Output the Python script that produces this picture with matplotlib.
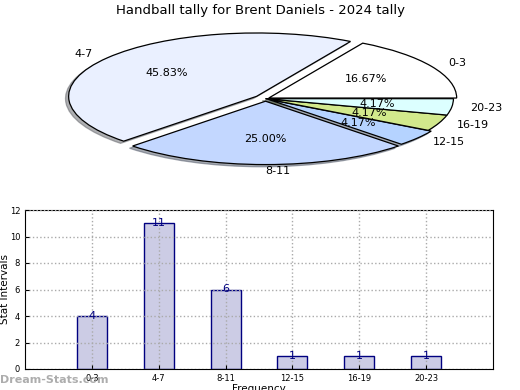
import numpy as np
import matplotlib.pyplot as plt

# data
categories = ["0-3", "4-7", "8-11", "12-15", "16-19", "20-23"]
counts = [4, 11, 6, 1, 1, 1]
pie_colors = ["#FFFFFF", "#EAF0FF", "#C3D7FF", "#B5D3FF", "#D2E98C", "#DCFFFF"]
explode = [0.02, 0.06, 0.04, 0.02, 0.0, 0.0]

fig = plt.figure(figsize=(5.2, 3.9), dpi=100)
fig.patch.set_facecolor("white")

# pie (squashed into an ellipse)
ax1 = fig.add_axes([40 / 520, 0.552, 451 / 520, 0.39])
wedges, texts, autotexts = ax1.pie(counts, labels=categories, colors=pie_colors,
                                   explode=explode, startangle=0, counterclock=True,
                                   autopct="%.2f%%", pctdistance=0.6, labeldistance=1.1,
                                   shadow={"ox": -0.012, "oy": -0.025, "shade": 0.6},
                                   wedgeprops={"edgecolor": "black", "linewidth": 0.9},
                                   textprops={"fontsize": 8})
ax1.set_aspect("auto")
ax1.set_xlim(-1.2, 1.2)
ax1.set_ylim(-1.2, 1.2)
ax1.axis("off")
fig.text(0.5, 0.972, "Handball tally for Brent Daniels - 2024 tally",
         ha="center", va="center", fontsize=9.5)

# bar chart
ax2 = fig.add_axes([25 / 520, 21 / 390, 468 / 520, 159 / 390])
x = np.arange(len(categories))
ax2.bar(x, counts, width=0.45, color="#CCCCE5", edgecolor="#000080", linewidth=1, zorder=1)
for xi, c in zip(x, counts):
    ax2.text(xi, c, str(c), ha="center", va="center", color="#000080", fontsize=8, zorder=4)
ax2.set_xlim(-1, 6)
ax2.set_ylim(0, 12)
ax2.set_yticks(range(0, 13, 2))
ax2.set_xticks(x)
ax2.set_xticklabels(categories)
ax2.tick_params(labelsize=6, direction="in", length=3)
ax2.grid(True, linestyle=":", color="#AAAAAA", linewidth=1, zorder=3)
ax2.set_axisbelow(False)
ax2.set_xlabel("Frequency", fontsize=7.5, labelpad=1)
ax2.set_ylabel("Stat Intervals", fontsize=7.5)
ax2.yaxis.set_label_coords(-0.031, 0.5)

fig.text(0.0, 0.025, "Dream-Stats.com", fontsize=8, color="#999999",
         fontweight="bold", ha="left", va="center", alpha=0.8)

plt.savefig("out.png", dpi=100)
